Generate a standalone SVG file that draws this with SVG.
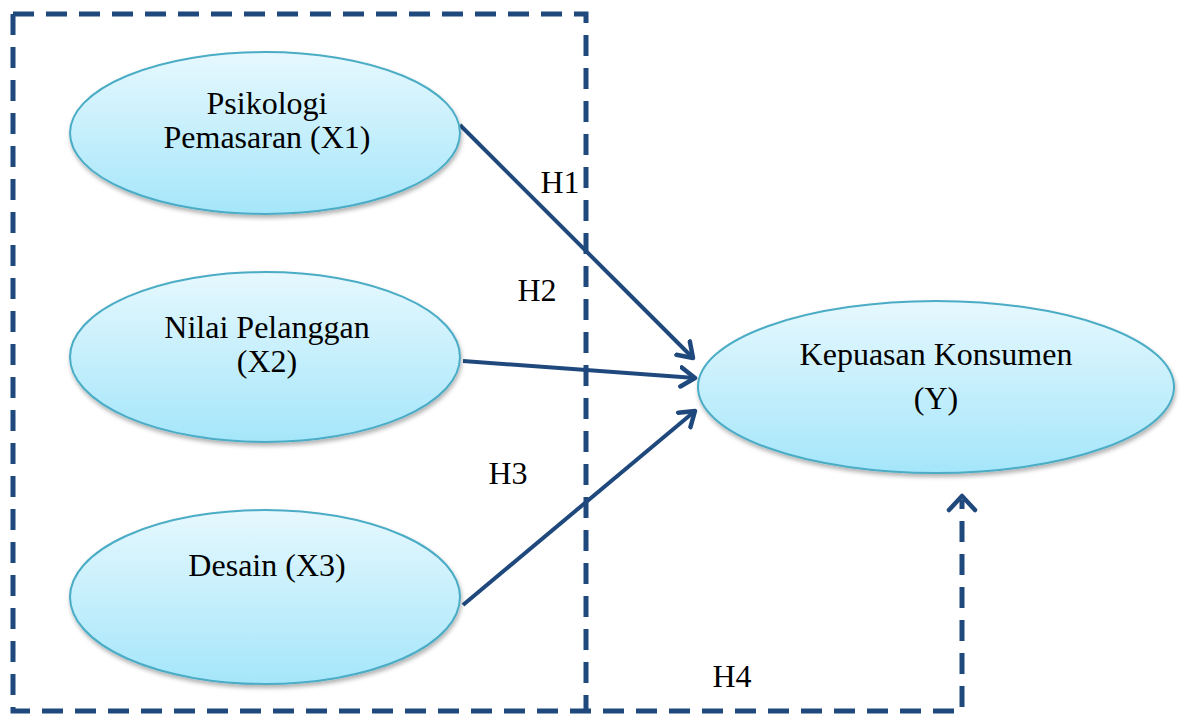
<svg xmlns="http://www.w3.org/2000/svg" width="1184" height="715" viewBox="0 0 1184 715">
<style>
.node ellipse{fill:url(#g);stroke:#4BACC6;stroke-width:2;filter:url(#sh)}
text{font-family:"Liberation Serif","Times New Roman",serif;font-size:32px;fill:#000;text-anchor:middle}
.dash{fill:none;stroke:#1F497D;stroke-width:5;stroke-dasharray:21 12}
.arr{fill:none;stroke:#1F497D;stroke-width:4;marker-end:url(#ah)}
</style>
<defs>
<linearGradient id="g" x1="0" y1="0" x2="0" y2="1">
<stop offset="0" stop-color="#E6F8FE"/>
<stop offset="1" stop-color="#A5E6FA"/>
</linearGradient>
<filter id="sh" x="-10%" y="-10%" width="120%" height="130%">
<feDropShadow dx="1" dy="3" stdDeviation="2" flood-color="#000" flood-opacity="0.3"/>
</filter>
<marker id="ah" markerUnits="userSpaceOnUse" markerWidth="32" markerHeight="32" refX="16" refY="11" orient="auto" viewBox="0 0 32 22">
<path d="M2,1.5 L16,11 L2,20.5" fill="none" stroke="#1F497D" stroke-width="4.5" stroke-linecap="round" stroke-linejoin="round"/>
</marker>
</defs>
<rect width="1184" height="715" fill="#fff"/>
<g id="connectors">
<path class="dash" d="M13,14 H586 V711 M13,14 V711 H962 V500"/>
<path class="arr" d="M460,125 L693,358"/>
<path class="arr" d="M463,361 L695,378"/>
<path class="arr" d="M463,605 L695,411"/>
<path d="M949,510 L962,496 L975,510" fill="none" stroke="#1F497D" stroke-width="4.5" stroke-linecap="round" stroke-linejoin="round"/>
<text x="560" y="193">H1</text>
<text x="537" y="301">H2</text>
<text x="508" y="484">H3</text>
<text x="732" y="687">H4</text>
</g>
<g id="x1" class="node">
<ellipse cx="265" cy="133" rx="195" ry="81"/>
<text x="267" y="114">Psikologi</text>
<text x="267" y="148">Pemasaran (X1)</text>
</g>
<g id="x2" class="node">
<ellipse cx="265" cy="357" rx="195" ry="85"/>
<text x="267" y="338">Nilai Pelanggan</text>
<text x="267" y="372">(X2)</text>
</g>
<g id="x3" class="node">
<ellipse cx="265" cy="597" rx="195" ry="87"/>
<text x="267" y="576">Desain (X3)</text>
</g>
<g id="y" class="node">
<ellipse cx="936" cy="387" rx="238" ry="86"/>
<text x="936" y="365">Kepuasan Konsumen</text>
<text x="936" y="409">(Y)</text>
</g>
</svg>
